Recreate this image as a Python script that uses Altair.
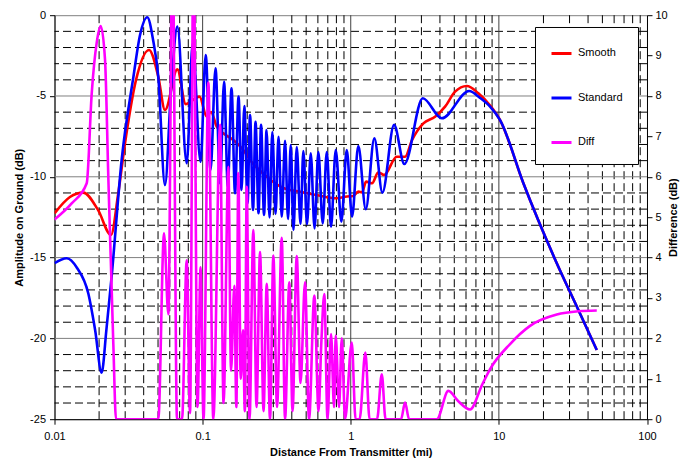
import altair as alt
import pandas as pd

FONT = "Liberation Sans"

# ---------------- data ----------------
smooth_dist = [0.01, 0.01272, 0.01565, 0.01967, 0.02407, 0.02684, 0.02992, 0.0355, 0.04346,
               0.0502, 0.0557, 0.0675, 0.0769, 0.0953, 0.1066, 0.1139, 0.1245, 0.138, 0.1612,
               0.1883, 0.209, 0.2709, 0.3507, 0.4547, 0.5894, 0.8043, 0.9441, 1.036, 1.125,
               1.192, 1.269, 1.393, 1.536, 1.679, 2.045, 2.326, 2.594, 3.093, 3.708, 4.333,
               5.063, 6.073, 7.273, 8.723, 10.19, 14.64, 24.6, 34.42, 45.81]
smooth_db = [-12.26, -11.25, -10.98, -12.05, -13.6, -11.13, -7.93, -4.01, -2.15,
             -3.81, -5.87, -3.35, -5.5, -5.04, -6.28, -5.99, -6.9, -7.31, -7.72,
             -8.34, -8.96, -9.99, -10.69, -10.92, -11.13, -11.33, -11.22, -11.19, -10.92,
             -10.97, -10.3, -10.4, -9.72, -9.89, -8.76, -8.76, -7.72, -6.69, -6.28, -5.66,
             -4.73, -4.38, -4.83, -5.59, -6.49, -10.4, -15.35, -18.24, -20.72]

standard_dist = [0.01, 0.0121, 0.0142, 0.0169, 0.0188, 0.0208, 0.0224, 0.0243, 0.0284, 0.0341,
                 0.0378, 0.0423, 0.0463, 0.0502, 0.0557, 0.0612, 0.0675, 0.0781, 0.0857, 0.0968,
                 0.1049, 0.1131, 0.1222, 0.1311, 0.1395, 0.148, 0.1567, 0.1655, 0.1748, 0.1831,
                 0.1912, 0.201, 0.209, 0.2189, 0.2276, 0.2385, 0.248, 0.2598, 0.2701, 0.2829,
                 0.2955, 0.3106, 0.3254, 0.342, 0.3601, 0.3772, 0.3935, 0.4103, 0.4319, 0.4581,
                 0.4785, 0.5068, 0.5371, 0.5697, 0.6042, 0.647, 0.6887, 0.7362, 0.7916, 0.8642,
                 0.9398, 1.02, 1.125, 1.263, 1.443, 1.635, 1.961, 2.301, 3.064, 4.117,
                 6.293, 7.466, 8.723, 10.19, 14.64, 24.6, 34.42, 45.81]
standard_db = [-15.35, -15.04, -15.64, -17.21, -19.48, -22.12, -19.48, -16.18, -8.96, -3.81,
               -1.23, -0.13, -1.53, -3.81, -10.51, -4.63, -0.71, -9.16, -1.74, -9.07,
               -2.46, -9.58, -3.29, -10.4, -4.12, -10.61, -4.52, -11.02, -5.04, -10.82,
               -5.62, -11.64, -6.18, -12.05, -6.59, -12.26, -6.79, -12.36, -7.1, -12.52,
               -7.23, -12.3, -7.52, -12.47, -7.78, -12.61, -8.03, -13.29, -8.16, -12.92,
               -8.4, -12.92, -8.55, -13.2, -8.47, -12.88, -8.47, -13.09, -8.34, -12.78,
               -8.34, -12.47, -8.09, -12.01, -7.62, -10.98, -6.79, -9.21, -5.14, -6.38,
               -4.69, -5.12, -5.66, -6.49, -10.4, -15.35, -18.24, -20.72]

diff_dist = [0.01, 0.01306, 0.0165, 0.01783, 0.01927, 0.02051, 0.02193, 0.02308, 0.02495, 0.02602,
             0.0502, 0.05488, 0.05868, 0.06262, 0.06716, 0.0726, 0.0781, 0.0822, 0.08681, 0.09239,
             0.0968, 0.1014, 0.1093, 0.1181, 0.1311, 0.1384, 0.1492, 0.1555, 0.1637, 0.1689,
             0.1742, 0.1808, 0.1874, 0.1927, 0.1985, 0.2073, 0.2199, 0.2312, 0.2441, 0.2577,
             0.2709, 0.2851, 0.3002, 0.3179, 0.342, 0.3601, 0.3849, 0.4046, 0.4319, 0.4581,
             0.4913, 0.5229, 0.5679, 0.6061, 0.6331, 0.6632, 0.697, 0.7362, 0.7714, 0.7916,
             0.8337, 0.8697, 0.9152, 1.016, 1.078, 1.147, 1.255, 1.34, 1.505, 1.62,
             1.718, 2.186, 2.326, 2.476, 3.808, 4.56, 5.304, 6.391, 7.702, 8.723,
             11.9, 16.24, 24.6, 34.42, 45.81]
diff_db = [4.94, 5.34, 5.84, 8.06, 9.32, 9.73, 8.9, 6.0, 1.86, 0,
           0, 4.6, 2.6, 12, 0, 0, 3.93, 0.15, 12, 0.3,
           3.76, 0, 8.33, 0, 7.29, 0.4, 6.25, 1.2, 3.3, 0.3,
           6.09, 1.0, 2.2, 0.2, 5.75, 0, 4.68, 0.3, 4.14, 0.2,
           3.35, 0, 4.05, 0.3, 4.49, 0, 3.39, 0.2, 4.04, 0.9,
           3.39, 0, 3.06, 0.2, 1.9, 3.1, 0, 2.11, 0.3, 2.07,
           0.3, 2.0, 0, 1.9, 0, 0, 1.65, 0, 0, 1.11,
           0, 0, 0.41, 0, 0, 0.7, 0.45, 0.24, 0.85, 1.24,
           1.86, 2.31, 2.59, 2.67, 2.69]

series_names = ["Smooth", "Standard", "Diff"]
series_colors = ["#FF0000", "#0000FF", "#FF00FF"]

x_ticks = [0.01, 0.1, 1, 10, 100]
x_minor = [0.02, 0.03, 0.04, 0.05, 0.06, 0.07, 0.08, 0.09,
           0.2, 0.3, 0.4, 0.5, 0.6, 0.7, 0.8, 0.9,
           2, 3, 4, 5, 6, 7, 8, 9,
           20, 30, 40, 50, 60, 70, 80, 90]
x_major = [0.1, 1, 10]
y_ticks = [-25, -20, -15, -10, -5, 0]
y_major = [-20, -15, -10, -5]
y_minor = [-24, -23, -22, -21, -19, -18, -17, -16, -14, -13, -12, -11,
           -9, -8, -7, -6, -4, -3, -2, -1]
y2_ticks = [0, 1, 2, 3, 4, 5, 6, 7, 8, 9, 10]

# ---------------- tables ----------------
df_smooth = pd.DataFrame({"dist": smooth_dist, "val": smooth_db, "series": "Smooth"})
df_standard = pd.DataFrame({"dist": standard_dist, "val": standard_db, "series": "Standard"})
df_diff = pd.DataFrame({"dist": diff_dist, "val": diff_db, "series": "Diff"})

W, H = 592.5, 404

xscale = alt.Scale(type="log", domain=[0.01, 100], nice=False)
yscale = alt.Scale(domain=[-25, 0], nice=False, zero=False)
y2scale = alt.Scale(domain=[0, 10], nice=False, zero=False)

x_axis = alt.Axis(values=x_ticks, labelExpr="format(datum.value, '~g')", grid=False,
                  labelFlush=False, labelOverlap=False,
                  domainColor="black", tickColor="black", tickSize=5, labelPadding=6,
                  labelFont=FONT, labelFontSize=11, labelColor="black",
                  title="Distance From Transmitter (mi)", titleFont=FONT, titleFontSize=11,
                  titleFontWeight="bold", titleColor="black", titleY=33, titleBaseline="middle")
y_axis = alt.Axis(values=y_ticks, labelExpr="'' + datum.value", grid=False,
                  labelFlush=False, labelOverlap=False,
                  domainColor="black", tickColor="black", tickSize=5, labelPadding=4,
                  labelFont=FONT, labelFontSize=11, labelColor="black",
                  title="Amplitude on Ground (dB)", titleFont=FONT, titleFontSize=11,
                  titleFontWeight="bold", titleColor="black", titleAngle=270,
                  titleX=-35.5, titleY=H / 2, titleBaseline="middle")
y2_axis = alt.Axis(orient="right", values=y2_ticks, format="d", grid=False,
                   labelFlush=False, labelOverlap=False,
                   domainColor="black", tickColor="black", tickSize=5, labelPadding=3,
                   labelFont=FONT, labelFontSize=11, labelColor="black",
                   title="Difference (dB)", titleFont=FONT, titleFontSize=11,
                   titleFontWeight="bold", titleColor="black", titleAngle=270,
                   titleX=27, titleY=H / 2, titleBaseline="middle")

legend = alt.Legend(orient="none", legendX=480.5, legendY=11.8, direction="vertical",
                    strokeColor="black", fillColor="white", padding=15, rowPadding=26.5,
                    symbolType="stroke", symbolSize=400, symbolStrokeWidth=3,
                    labelFont=FONT, labelFontSize=11, labelColor="black", labelOffset=5,
                    cornerRadius=0)
color_enc = alt.Color("series:N", scale=alt.Scale(domain=series_names, range=series_colors),
                      legend=legend, title=None)

# ---------------- grid ----------------
gx_minor = alt.Chart(pd.DataFrame({"x": x_minor})).mark_rule(
    color="black", strokeWidth=1, strokeDash=[8, 4]).encode(
    x=alt.X("x:Q", scale=xscale, axis=x_axis))
gx_major = alt.Chart(pd.DataFrame({"x": x_major})).mark_rule(
    color="#404040", strokeWidth=1).encode(
    x=alt.X("x:Q", scale=xscale, axis=x_axis))
gy_minor = alt.Chart(pd.DataFrame({"y": y_minor})).mark_rule(
    color="black", strokeWidth=1, strokeDash=[8, 4]).encode(
    y=alt.Y("y:Q", scale=yscale, axis=y_axis))
gy_major = alt.Chart(pd.DataFrame({"y": y_major})).mark_rule(
    color="#808080", strokeWidth=1).encode(
    y=alt.Y("y:Q", scale=yscale, axis=y_axis))

line_kw = dict(strokeWidth=2.6, interpolate="monotone", clip=True)

smooth = alt.Chart(df_smooth).mark_line(**line_kw).encode(
    x=alt.X("dist:Q", scale=xscale, axis=x_axis),
    y=alt.Y("val:Q", scale=yscale, axis=y_axis),
    color=color_enc)
standard = alt.Chart(df_standard).mark_line(**line_kw).encode(
    x=alt.X("dist:Q", scale=xscale, axis=x_axis),
    y=alt.Y("val:Q", scale=yscale, axis=y_axis),
    color=color_enc)
diff = alt.Chart(df_diff).mark_line(**line_kw).encode(
    x=alt.X("dist:Q", scale=xscale, axis=x_axis),
    y=alt.Y("val:Q", scale=y2scale, axis=y2_axis),
    color=color_enc)

left = alt.layer(gy_minor, gx_minor, gy_major, gx_major, smooth, standard)

chart = alt.layer(left, diff).resolve_scale(y="independent").properties(
    width=W, height=H,
    autosize=alt.AutoSizeParams(type="none"),
    padding={"left": 46.5, "top": 7.2, "right": 38, "bottom": 40},
    background="white",
).configure_view(stroke="#808080", strokeWidth=1)

chart.save("out.html", embed_options={"renderer": "svg", "actions": False})
